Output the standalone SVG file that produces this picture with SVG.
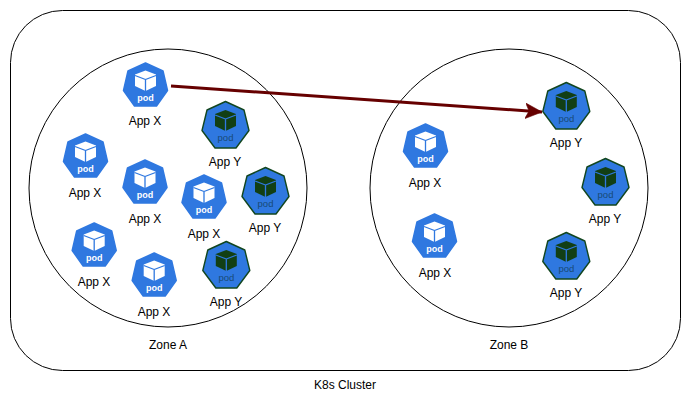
<svg xmlns="http://www.w3.org/2000/svg" xmlns:xlink="http://www.w3.org/1999/xlink" width="691" height="402" viewBox="0 0 691 402">
<style>
text{font-family:"Liberation Sans",Arial,sans-serif;font-size:12px;fill:#000;text-anchor:middle}
.bound{fill:none;stroke:#000;stroke-width:1}
.hx{fill:#2f78e0;stroke:#2f78e0;stroke-width:1.5;stroke-linejoin:round}
.hy{fill:#2f78e0;stroke:#12461f;stroke-width:1.4;stroke-linejoin:round}
.cx{fill:#fff}
.cy{fill:#123f14}
.edge{stroke:#2f78e0;stroke-width:1.3;fill:none;stroke-linejoin:round}
text.px{fill:#fff;font-weight:bold;font-size:9px}
text.py{fill:#174a76;font-size:9.5px}
.conn{fill:none;stroke:#660000;stroke-width:3}
</style>
<defs>
<marker id="arr" markerUnits="userSpaceOnUse" markerWidth="18" markerHeight="16" refX="15" refY="7" orient="auto" viewBox="0 0 16 14"><path d="M0 0L15 7L0 14L3.5 7Z" fill="#660000" stroke="#660000" stroke-width="0.5"/></marker>
<g id="podx">
<path class="hx" d="M0 -22L17.5 -14L22 5.5L11 21H-11L-22 5.5L-17.5 -14Z"/>
<path class="cx" d="M0 -14.5L10.5 -10.5V1L0 6L-10.5 1V-10.5Z"/>
<path class="edge" d="M-10.5 -9.5L0 -5.5L10.5 -9.5M0 -5.5V6.5"/>
<text class="px" x="0" y="15.5">pod</text>
</g>
<g id="pody">
<path class="hy" d="M0 -23.5L18.5 -15L23.5 5.5L10.5 23H-10.5L-23.5 5.5L-18.5 -15Z"/>
<path class="cy" d="M0 -15L10.5 -11V1L0 6L-10.5 1V-11Z"/>
<path class="edge" d="M-10.5 -10L0 -6L10.5 -10M0 -6V6.5"/>
<text class="py" x="0" y="15.5">pod</text>
</g>
</defs>
<g id="cluster"><rect class="bound" x="10.5" y="10.5" width="670" height="360" rx="52"/><text x="345" y="389">K8s Cluster</text></g>
<g id="zone-a"><circle class="bound" cx="168" cy="188" r="139"/><text x="168" y="349">Zone A</text></g>
<g id="zone-b"><circle class="bound" cx="509" cy="188" r="139"/><text x="509" y="349">Zone B</text></g>
<g id="a-x1"><use href="#podx" x="145.5" y="85"/><text x="145" y="125">App X</text></g>
<g id="a-x2"><use href="#podx" x="85.5" y="156"/><text x="85" y="197">App X</text></g>
<g id="a-x3"><use href="#podx" x="145" y="182"/><text x="145" y="223">App X</text></g>
<g id="a-x4"><use href="#podx" x="204" y="197"/><text x="204" y="238">App X</text></g>
<g id="a-x5"><use href="#podx" x="94.2" y="245"/><text x="94" y="286">App X</text></g>
<g id="a-x6"><use href="#podx" x="154.2" y="275"/><text x="154" y="316">App X</text></g>
<g id="a-y1"><use href="#pody" x="225.5" y="125"/><text x="225" y="166">App Y</text></g>
<g id="a-y2"><use href="#pody" x="265.5" y="191"/><text x="265" y="232">App Y</text></g>
<g id="a-y3"><use href="#pody" x="226.3" y="265"/><text x="226" y="306">App Y</text></g>
<g id="b-x1"><use href="#podx" x="425.5" y="146"/><text x="425" y="187">App X</text></g>
<g id="b-x2"><use href="#podx" x="434.5" y="236"/><text x="435" y="277">App X</text></g>
<g id="b-y1"><use href="#pody" x="566.3" y="106"/><text x="566" y="147">App Y</text></g>
<g id="b-y2"><use href="#pody" x="605.5" y="182"/><text x="605" y="223">App Y</text></g>
<g id="b-y3"><use href="#pody" x="566.3" y="256"/><text x="566" y="297">App Y</text></g>
<g id="connectors"><path class="conn" d="M171 86L542 112" marker-end="url(#arr)"/></g>
</svg>
